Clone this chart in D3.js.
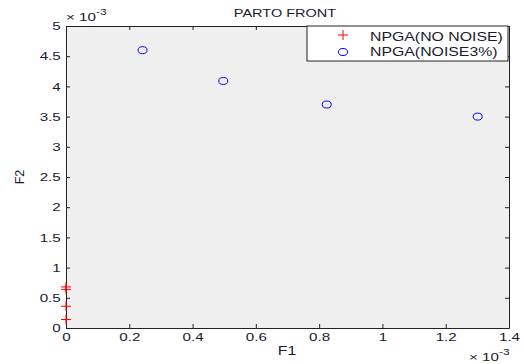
<!DOCTYPE html>
<html>
<head>
<meta charset="utf-8">
<script src="https://cdn.jsdelivr.net/npm/d3@7"></script>
<style>
  body { margin: 0; background: #fff; }
  svg { display: block; font-family: "Liberation Sans", Arial, sans-serif; }
</style>
</head>
<body>
<svg id="chart" width="524" height="364"></svg>
<script>
// Pareto front values (in units of 1e-3)
const noNoiseF1 = [0, 0, 0, 0];
const noNoiseF2 = [0.68, 0.64, 0.36, 0.14];
const noise3F1 = [0.242, 0.497, 0.824, 1.301];
const noise3F2 = [4.60, 4.09, 3.70, 3.50];
const xTicks = [0, 0.2, 0.4, 0.6, 0.8, 1, 1.2, 1.4];
const yTicks = [0, 0.5, 1, 1.5, 2, 2.5, 3, 3.5, 4, 4.5, 5];
const seriesNames = ["NPGA(NO NOISE)", "NPGA(NOISE3%)"];

const svg = d3.select("#chart");
const m = { left: 66, right: 15, top: 26, bottom: 36 };
const W = 524, H = 364;
const x = d3.scaleLinear().domain([0, 1.4]).range([m.left, W - m.right]);
const y = d3.scaleLinear().domain([0, 5]).range([H - m.bottom, m.top]);
const textColor = "#1a1a2e";
const SX = 1.32; // horizontal stretch of the lettering

// plot area
svg.append("rect")
  .attr("x", x(0)).attr("y", y(5))
  .attr("width", x(1.4) - x(0)).attr("height", y(0) - y(5))
  .attr("fill", "#efefef");

const tickLen = 4;
const fmt = d => d3.format("~g")(d);

// axes with inward ticks
const xAxis = svg.append("g").attr("transform", `translate(0,${y(0)})`)
  .call(d3.axisBottom(x).tickValues(xTicks).tickSizeInner(-tickLen).tickSizeOuter(0).tickPadding(5).tickFormat(fmt));
const xAxisTop = svg.append("g").attr("transform", `translate(0,${y(5)})`)
  .call(d3.axisTop(x).tickValues(xTicks).tickSizeInner(-tickLen).tickSizeOuter(0).tickFormat(""));
const yAxis = svg.append("g").attr("transform", `translate(${x(0)},0)`)
  .call(d3.axisLeft(y).tickValues(yTicks).tickSizeInner(-tickLen).tickSizeOuter(0).tickPadding(4).tickFormat(fmt));
const yAxisRight = svg.append("g").attr("transform", `translate(${x(1.4)},0)`)
  .call(d3.axisRight(y).tickValues(yTicks).tickSizeInner(-tickLen).tickSizeOuter(0).tickFormat(""));

[xAxis, xAxisTop, yAxis, yAxisRight].forEach(g => {
  g.select(".domain").attr("stroke", "#222").attr("stroke-width", 1);
  g.selectAll(".tick line").attr("stroke", "#222");
  g.selectAll(".tick text").attr("fill", textColor).attr("font-size", 11.5)
    .attr("font-family", "'Liberation Sans', Arial, sans-serif")
    .attr("transform", `scale(${SX},1)`);
});

// stretched text helper
const label = (px, py, str, size, anchor) => {
  return svg.append("text")
    .attr("transform", `translate(${px},${py}) scale(${SX},1)`)
    .attr("text-anchor", anchor || "start")
    .attr("fill", textColor).attr("font-size", size).text(str);
};

// exponent labels
const expLabel = (px, py) => {
  const t = svg.append("text").attr("transform", `translate(${px},${py}) scale(${SX},1)`)
    .attr("fill", textColor).attr("font-size", 11.5);
  t.append("tspan").text("× 10");
  t.append("tspan").attr("dy", -6).attr("font-size", 9).text("-3");
};
expLabel(66, 21);
expLabel(469, 361);

// title and axis labels
label(285, 17, "PARTO FRONT", 11, "middle");
label(287, 355, "F1", 12, "middle");
svg.append("text").attr("transform", "translate(24,177) rotate(-90)").attr("text-anchor", "middle")
  .attr("fill", textColor).attr("font-size", 12.5).text("F2");

// plus markers
const plus = (g, cx, cy, s) => {
  g.append("path").attr("d", `M${cx - s},${cy}H${cx + s}M${cx},${cy - s}V${cy + s}`)
    .attr("stroke", "#ff0000").attr("stroke-width", 1).attr("fill", "none");
};
const pts = svg.append("g");
noNoiseF1.forEach((f1, i) => plus(pts, x(f1), y(noNoiseF2[i]), 5));

pts.selectAll("ellipse").data(noise3F1).join("ellipse")
  .attr("cx", d => x(d)).attr("cy", (d, i) => y(noise3F2[i]))
  .attr("rx", 4.5).attr("ry", 3.5)
  .attr("fill", "none").attr("stroke", "#0000ff").attr("stroke-width", 1);

// legend
const lg = svg.append("g");
const lx0 = 307, ly0 = 26, lx1 = 508, ly1 = 61;
lg.append("rect").attr("x", lx0).attr("y", ly0).attr("width", lx1 - lx0).attr("height", ly1 - ly0)
  .attr("fill", "#fff").attr("stroke", "#222").attr("stroke-width", 1);
plus(lg, 343, 35, 5);
lg.append("ellipse").attr("cx", 343).attr("cy", 52).attr("rx", 4.5).attr("ry", 3.5)
  .attr("fill", "none").attr("stroke", "#0000ff");
seriesNames.forEach((n, i) => {
  label(370, 41 + i * 15, n, 12);
});
</script>
</body>
</html>
